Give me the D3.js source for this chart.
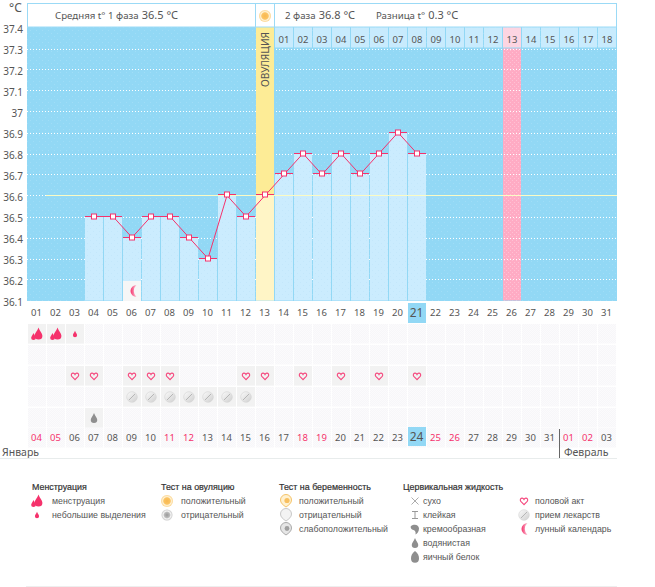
<!DOCTYPE html>
<html>
<head>
<meta charset="utf-8">
<script src="https://cdn.jsdelivr.net/npm/d3@7/dist/d3.min.js"></script>
<style>
html, body { margin: 0; padding: 0; background: #fff; }
svg { display: block; }
text { font-family: "Noto Sans", sans-serif; fill: #555; }
.leg { font-family: "Liberation Sans", sans-serif; }
</style>
</head>
<body>
<svg id="chart" width="655" height="587"></svg>
<script>
// data
var tempTicks = [37.4, 37.3, 37.2, 37.1, 37, 36.9, 36.8, 36.7, 36.6, 36.5, 36.4, 36.3, 36.2, 36.1];
var temps = [null, null, null, 36.5, 36.5, 36.4, 36.5, 36.5, 36.4, 36.3, 36.6, 36.5, 36.6,
	36.7, 36.8, 36.7, 36.8, 36.7, 36.8, 36.9, 36.8];
var cycleDays = ["01","02","03","04","05","06","07","08","09","10","11","12","13","14","15","16",
	"17","18","19","20","21","22","23","24","25","26","27","28","29","30","31"];
var dates = ["04","05","06","07","08","09","10","11","12","13","14","15","16","17","18","19",
	"20","21","22","23","24","25","26","27","28","29","30","31","01","02","03"];
var weekendDates = [0, 1, 7, 8, 14, 15, 21, 22, 28, 29];
var phaseTwoDays = ["01","02","03","04","05","06","07","08","09","10","11","12","13","14","15","16","17","18"];
var coverLine = 36.6;
var ovulationDay = 12;
var peakDay = 25;
var todayDay = 20;
var moonDay = 5;
var bleedDays = [0, 1];
var spotDays = [2];
var heartDays = [2, 3, 5, 6, 7, 11, 12, 14, 16, 18, 20];
var pillDays = [5, 6, 7, 8, 9, 10, 11];
var waterDays = [3];

var svg = d3.select("#chart");
var defs = svg.append("defs");

// scales
var x = d3.scaleBand().domain(d3.range(31)).range([28, 617]);
var y = d3.scaleLinear().domain([36.1, 37.4]).range([300.5, 27.5]);
var cellW = 18;
function cx(i){ return x(i) + cellW / 2; }

// textures
function dots(id, size, bg, dot, op){
	var p = defs.append("pattern").attr("id", id).attr("width", size).attr("height", size)
		.attr("patternUnits", "userSpaceOnUse");
	p.append("rect").attr("width", size).attr("height", size).attr("fill", bg);
	p.append("rect").attr("width", 1).attr("height", 1).attr("fill", dot).attr("opacity", op);
	p.append("rect").attr("x", size / 2).attr("y", size / 2).attr("width", 1).attr("height", 1).attr("fill", dot).attr("opacity", op);
}
dots("skyTex", 6, "#92d8f5", "#a4dff7", 0.8);
dots("barTex", 6, "#cbecfe", "#bfe6fa", 0.7);
dots("pinkTex", 4, "#ffabc4", "#ffc4d6", 0.9);
dots("cellTex", 2, "#f7f6f9", "#fbfbfc", 1);

var sunGrad = defs.append("radialGradient").attr("id", "sunGrad");
sunGrad.append("stop").attr("offset", "0%").attr("stop-color", "#f8b850");
sunGrad.append("stop").attr("offset", "55%").attr("stop-color", "#fbc463");
sunGrad.append("stop").attr("offset", "70%").attr("stop-color", "#fff3d8");
sunGrad.append("stop").attr("offset", "100%").attr("stop-color", "#fbd48c");
var greyGrad = defs.append("radialGradient").attr("id", "greyGrad");
greyGrad.append("stop").attr("offset", "0%").attr("stop-color", "#999");
greyGrad.append("stop").attr("offset", "50%").attr("stop-color", "#bbb");
greyGrad.append("stop").attr("offset", "70%").attr("stop-color", "#f4f4f4");
greyGrad.append("stop").attr("offset", "100%").attr("stop-color", "#c8c8c8");
var pillGrad = defs.append("linearGradient").attr("id", "pillGrad").attr("x1", 0).attr("y1", 0).attr("x2", 1).attr("y2", 1);
pillGrad.append("stop").attr("offset", "0%").attr("stop-color", "#fbfbfb");
pillGrad.append("stop").attr("offset", "100%").attr("stop-color", "#cfcfcf");
var moonGrad = defs.append("linearGradient").attr("id", "moonGrad");
moonGrad.append("stop").attr("offset", "0%").attr("stop-color", "#f5326c");
moonGrad.append("stop").attr("offset", "100%").attr("stop-color", "#fbc6d6");

// icon shapes, drawn around 0,0
var dropPath = function(s){
	return "M0," + (-s) + "C" + (s * 0.25) + "," + (-s * 0.3) + " " + (s * 0.65) + "," + (-s * 0.05) + " " + (s * 0.65) + "," + (s * 0.4)
		+ "A" + (s * 0.65) + "," + (s * 0.6) + " 0 0 1 " + (-s * 0.65) + "," + (s * 0.4)
		+ "C" + (-s * 0.65) + "," + (-s * 0.05) + " " + (-s * 0.25) + "," + (-s * 0.3) + " 0," + (-s) + "Z";
};
var heartPath = "M0,3.6L-3.2,0.4C-4.2,-0.8 -3.7,-2.7 -2.1,-2.9C-1.1,-3 -0.4,-2.4 0,-1.6C0.4,-2.4 1.1,-3 2.1,-2.9C3.7,-2.7 4.2,-0.8 3.2,0.4Z";
var crescent = "M3.5,-6A6,6 0 1 0 3.5,6A8,8 0 0 1 3.5,-6Z";

function drawBleed(g){
	g.append("path").attr("d", dropPath(6)).attr("transform", "translate(1.5,-0.5)").attr("fill", "#f5326c");
	g.append("path").attr("d", dropPath(3.6)).attr("transform", "translate(-3.5,2.5)").attr("fill", "#f5326c");
}
function drawSpot(g){
	g.append("path").attr("d", dropPath(3.2)).attr("fill", "#f5326c");
}
function drawHeart(g){
	g.append("path").attr("d", heartPath).attr("fill", "none").attr("stroke", "#f5467c").attr("stroke-width", 1.1);
}
function drawPill(g){
	g.append("circle").attr("r", 5.3).attr("fill", "url(#pillGrad)").attr("stroke", "#d4d4d4").attr("stroke-width", 0.6);
	g.append("line").attr("x1", -3).attr("y1", 3).attr("x2", 3).attr("y2", -3).attr("stroke", "#aaa").attr("stroke-width", 0.8);
}
function drawWater(g){
	g.append("path").attr("d", dropPath(5)).attr("fill", "#8e8e8e");
}
function drawMoon(g){
	g.append("path").attr("d", crescent).attr("fill", "url(#moonGrad)");
}
function drawSun(g){
	g.append("circle").attr("r", 6).attr("fill", "url(#sunGrad)");
}
function drawGreySun(g){
	g.append("circle").attr("r", 5.5).attr("fill", "url(#greyGrad)");
}
var pregShape = "M-5.5,-1A5.5,5.5 0 1 1 5.5,-1C5.5,2 3,4 0,6C-3,4 -5.5,2 -5.5,-1Z";
function drawPregPos(g){
	g.append("path").attr("d", pregShape).attr("fill", "#fff1d0").attr("stroke", "#f5c469").attr("stroke-width", 1);
	g.append("circle").attr("r", 2.6).attr("cx", 1).attr("cy", -0.5).attr("fill", "#f8c060");
}
function drawPregNeg(g){
	g.append("path").attr("d", pregShape).attr("fill", "#f3f3f3").attr("stroke", "#c8c8c8").attr("stroke-width", 1);
}
function drawPregWeak(g){
	g.append("path").attr("d", pregShape).attr("fill", "#e6e6e6").attr("stroke", "#aaa").attr("stroke-width", 1);
	g.append("circle").attr("r", 2.4).attr("cx", 1).attr("cy", -0.5).attr("fill", "#a0a0a0");
}
function drawDry(g){
	g.append("path").attr("d", "M-3.5,-3.5L3.5,3.5M3.5,-3.5L-3.5,3.5").attr("stroke", "#888").attr("stroke-width", 0.7);
}
function drawSticky(g){
	g.append("path").attr("d", "M-3,-3.5H3M0,-3.5V3.5M-3,3.5H3").attr("fill", "none").attr("stroke", "#999").attr("stroke-width", 1);
}
function drawCreamy(g){
	g.append("path").attr("d", "M-4,-3C-1,-5.5 4,-4.5 4,-0.5C4,2.5 2,5 0.5,5.5C1,3 0,1.5 -1.5,1C-3.5,0.5 -5,-1.5 -4,-3Z").attr("fill", "#8e8e8e");
}
function drawEgg(g){
	g.append("path").attr("d", "M0,-6C3,-4 4,-1 4,1.5A4,4.2 0 0 1 -4,1.5C-4,-1 -3,-4 0,-6Z").attr("fill", "#8e8e8e");
}

// plot background
svg.append("rect").attr("x", 27).attr("y", 27).attr("width", 590).attr("height", 274).attr("fill", "url(#skyTex)");
svg.append("rect").attr("x", x(peakDay)).attr("y", y(37.3)).attr("width", cellW).attr("height", y(36.1) - y(37.3)).attr("fill", "url(#pinkTex)");

// temperature axis and grid
var yAxis = d3.axisLeft(y).tickValues(tempTicks).tickSize(0).tickPadding(0).tickFormat(function(d){ return String(d); });
var yAxisG = svg.append("g").attr("transform", "translate(23,2)").call(yAxis);
yAxisG.select(".domain").remove();
yAxisG.selectAll("text").attr("font-size", 10).style("font-family", "'Noto Sans', sans-serif").attr("fill", "#555");

svg.append("g").selectAll("line").data(tempTicks.filter(function(d){ return d < 37.4; })).enter().append("line")
	.attr("x1", 27).attr("x2", 617)
	.attr("y1", function(d){ return Math.round(y(d)) + 0.5; })
	.attr("y2", function(d){ return Math.round(y(d)) + 0.5; })
	.attr("stroke", "#fff").attr("stroke-width", 1).attr("stroke-dasharray", "1,2");

// bars
var bars = temps.map(function(v, i){ return {v: v, i: i}; }).filter(function(d){ return d.v !== null; });
svg.append("g").selectAll("rect").data(bars).enter().append("rect")
	.attr("x", function(d){ return x(d.i); })
	.attr("y", function(d){ return y(d.v); })
	.attr("width", cellW)
	.attr("height", function(d){ return y(36.1) - y(d.v); })
	.attr("fill", "url(#barTex)");

// ovulation column
svg.append("rect").attr("x", x(ovulationDay)).attr("y", 27).attr("width", cellW).attr("height", y(coverLine) - 27).attr("fill", "#fdec96");
svg.append("rect").attr("x", x(ovulationDay)).attr("y", y(coverLine)).attr("width", cellW).attr("height", y(36.1) - y(coverLine)).attr("fill", "#fff5c6");
svg.append("text").attr("transform", "translate(" + (cx(ovulationDay) + 3.5) + ",87) rotate(-90)")
	.attr("font-size", 10.2).text("ОВУЛЯЦИЯ");

// cover line
svg.append("line").attr("x1", 46).attr("x2", 617).attr("y1", Math.round(y(coverLine)) + 0.5).attr("y2", Math.round(y(coverLine)) + 0.5)
	.attr("stroke", "#fbfbc4").attr("stroke-width", 1);

// header
var header = svg.append("g");
[[27.5, 228], [255.5, 19], [274.5, 342]].forEach(function(b){
	header.append("rect").attr("x", b[0]).attr("y", 3.5).attr("width", b[1]).attr("height", 23.5)
		.attr("fill", "#fff").attr("stroke", "#9bdaf6");
});
drawSun(header.append("g").attr("transform", "translate(" + cx(ovulationDay) + ",16)"));

function headerText(px, small, big){
	var t = svg.append("text").attr("x", px).attr("y", 19).attr("font-size", 9.7);
	t.append("tspan").text(small);
	t.append("tspan").attr("dx", 3).attr("font-size", 11).text(big);
}
headerText(55, "Средняя t° 1 фаза", "36.5 °С");
headerText(285, "2 фаза", "36.8 °С");
headerText(376, "Разница t°", "0.3 °С");
svg.append("text").attr("x", 9).attr("y", 12).attr("font-size", 12).text("°С");

// second phase day row
var phaseStart = ovulationDay + 1;
svg.append("g").selectAll("rect").data(phaseTwoDays).enter().append("rect")
	.attr("x", function(d, i){ return x(i + phaseStart); })
	.attr("y", 27.5).attr("width", cellW).attr("height", 20)
	.attr("fill", function(d, i){ return i + phaseStart === peakDay ? "#fdd5e2" : "#c8ebfd"; });
svg.append("g").selectAll("text").data(phaseTwoDays).enter().append("text")
	.attr("x", function(d, i){ return cx(i + phaseStart); })
	.attr("y", 43).attr("text-anchor", "middle").attr("font-size", 9.5).text(function(d){ return d; });

// temperature line
var line = d3.line().x(function(d){ return cx(d.i); }).y(function(d){ return y(d.v); });
svg.append("path").datum(bars).attr("d", line).attr("fill", "none").attr("stroke", "#f5326c").attr("stroke-width", 1);
svg.append("g").selectAll("line").data(bars).enter().append("line")
	.attr("x1", function(d){ return x(d.i); })
	.attr("x2", function(d){ return x(d.i) + cellW; })
	.attr("y1", function(d){ return Math.round(y(d.v)) - 0.5; })
	.attr("y2", function(d){ return Math.round(y(d.v)) - 0.5; })
	.attr("stroke", "#f5326c").attr("stroke-width", 1);
svg.append("g").selectAll("rect").data(bars).enter().append("rect")
	.attr("x", function(d){ return cx(d.i) - 2.5; })
	.attr("y", function(d){ return Math.round(y(d.v)) - 3; })
	.attr("width", 5).attr("height", 5)
	.attr("fill", "#fff").attr("stroke", "#f5326c").attr("stroke-width", 1);

// moon cell in the plot
svg.append("rect").attr("x", x(moonDay)).attr("y", 281).attr("width", cellW).attr("height", 20).attr("fill", "#f6f6f6");
drawMoon(svg.append("g").attr("transform", "translate(" + (cx(moonDay) + 1) + ",291)"));

// symptom rows
var rowY = [324, 345, 366, 387, 408, 428];
var gridG = svg.append("g");
rowY.forEach(function(ry){
	gridG.selectAll(null).data(d3.range(31)).enter().append("rect")
		.attr("x", function(i){ return x(i); }).attr("y", ry)
		.attr("width", cellW).attr("height", 19.5).attr("fill", "url(#cellTex)");
});

function iconRow(days, row, draw){
	days.forEach(function(i){
		svg.append("rect").attr("x", x(i)).attr("y", rowY[row]).attr("width", cellW).attr("height", 19.5).attr("fill", "#f2f2f2");
		draw(svg.append("g").attr("transform", "translate(" + cx(i) + "," + (rowY[row] + 10) + ")"));
	});
}
iconRow(bleedDays, 0, drawBleed);
iconRow(spotDays, 0, drawSpot);
iconRow(heartDays, 2, drawHeart);
iconRow(pillDays, 3, drawPill);
iconRow(waterDays, 4, drawWater);

// today markers
svg.append("rect").attr("x", x(todayDay)).attr("y", 303).attr("width", cellW).attr("height", 20).attr("fill", "#92d8f5");
svg.append("rect").attr("x", x(todayDay)).attr("y", 427).attr("width", cellW).attr("height", 19).attr("fill", "#92d8f5");

// day numbers and dates
var cycleAxis = d3.axisBottom(x).tickSize(0).tickPadding(0).tickFormat(function(i){ return cycleDays[i]; });
var cycleG = svg.append("g").attr("transform", "translate(-1,309)").call(cycleAxis);
cycleG.select(".domain").remove();
cycleG.selectAll("text").attr("font-size", function(i){ return i === todayDay ? 12 : 9.5; })
	.style("font-family", "'Noto Sans', sans-serif").attr("fill", "#555");

var dateAxis = d3.axisBottom(x).tickSize(0).tickPadding(0).tickFormat(function(i){ return dates[i]; });
var dateG = svg.append("g").attr("transform", "translate(-1,434)").call(dateAxis);
dateG.select(".domain").remove();
dateG.selectAll("text").attr("font-size", function(i){ return i === todayDay ? 12 : 9.5; })
	.style("font-family", "'Noto Sans', sans-serif")
	.style("fill", function(i){ return weekendDates.indexOf(i) >= 0 ? "#f5326c" : "#555"; });
cycleG.selectAll("text").filter(function(i){ return i === todayDay; }).attr("dy", "0.7em");
dateG.selectAll("text").filter(function(i){ return i === todayDay; }).attr("dy", "0.55em");

// months
svg.append("text").attr("x", 2).attr("y", 456).attr("font-size", 10.5).text("Январь");
svg.append("text").attr("x", 564).attr("y", 456).attr("font-size", 10.5).text("Февраль");
svg.append("line").attr("x1", 0).attr("x2", 617).attr("y1", 458.5).attr("y2", 458.5).attr("stroke", "#e8ecec");
svg.append("line").attr("x1", 559.5).attr("x2", 559.5).attr("y1", 429).attr("y2", 458).attr("stroke", "#666");

// legend
var legendMenses = [["менструация", drawBleed], ["небольшие выделения", drawSpot]];
var legendOvulation = [["положительный", drawSun], ["отрицательный", drawGreySun]];
var legendPregnancy = [["положительный", drawPregPos], ["отрицательный", drawPregNeg], ["слабоположительный", drawPregWeak]];
var legendFluid = [["сухо", drawDry], ["клейкая", drawSticky], ["кремообразная", drawCreamy], ["водянистая", drawWater], ["яичный белок", drawEgg]];
var legendOther = [["половой акт", drawHeart], ["прием лекарств", drawPill], ["лунный календарь", drawMoon]];

function legend(title, titleX, iconX, labelX, items){
	if(title){
		svg.append("text").attr("class", "leg").attr("x", titleX).attr("y", 490).attr("font-size", 8.9)
			.style("fill", "#333").style("stroke", "#333").style("stroke-width", 0.2).text(title);
	}
	items.forEach(function(it, i){
		var ly = 501 + i * 14;
		it[1](svg.append("g").attr("transform", "translate(" + iconX + "," + ly + ")"));
		svg.append("text").attr("class", "leg").attr("x", labelX).attr("y", ly + 3).attr("font-size", 8.8).text(it[0]);
	});
}
legend("Менструация", 32, 37, 52, legendMenses);
legend("Тест на овуляцию", 161, 167, 181, legendOvulation);
legend("Тест на беременность", 279, 286, 299, legendPregnancy);
legend("Цервикальная жидкость", 403, 415, 423, legendFluid);
legend(null, 0, 524, 535, legendOther);

svg.append("line").attr("x1", 26).attr("x2", 617).attr("y1", 586.5).attr("y2", 586.5).attr("stroke", "#eee");
</script>
</body>
</html>
